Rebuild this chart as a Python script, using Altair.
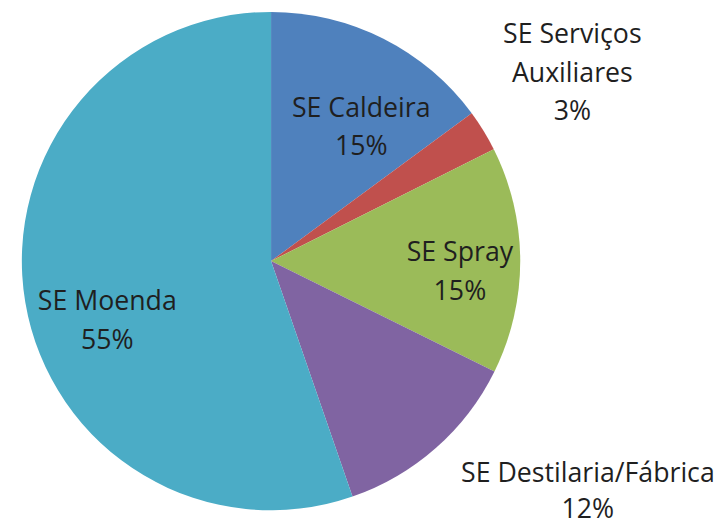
import math
import altair as alt
import pandas as pd

categories = ["SE Caldeira", "SE Serviços Auxiliares", "SE Spray",
              "SE Destilaria/Fábrica", "SE Moenda"]
values = [14.9, 2.7, 14.7, 12.4, 55.3]
labels = ["SE Caldeira\n15%", "SE Serviços\nAuxiliares\n3%", "SE Spray\n15%",
          "SE Destilaria/Fábrica\n12%", "SE Moenda\n55%"]
colors = ["#4F81BD", "#C0504D", "#9BBB59", "#8064A2", "#4BACC6"]

df = pd.DataFrame({
    "category": categories,
    "value": values,
    "label": labels,
    "order": list(range(len(categories))),
})

# label layout: (radius, dx, dy) -- dy locates the first line of each label
label_layout = {
    "SE Caldeira": (160, 19, -11),
    "SE Serviços Auxiliares": (355, 2, -43),
    "SE Spray": (189, 2, -7),
    "SE Destilaria/Fábrica": (300, 122, -10),
    "SE Moenda": (174, 6, 13),
}

theta_scale = alt.Scale(domain=[0, 100], range=[0, 2 * math.pi])

pie = alt.Chart(df).mark_arc(outerRadius=252, stroke=None).encode(
    theta=alt.Theta("value:Q", stack=True, scale=theta_scale),
    color=alt.Color("category:N", scale=alt.Scale(domain=categories, range=colors), legend=None),
    order=alt.Order("order:Q"),
)

base = alt.Chart(df).transform_window(
    cum="sum(value)", sort=[{"field": "order"}], frame=[None, 0]
).transform_calculate(mid="datum.cum - datum.value / 2")

texts = []
for cat in categories:
    r, dx, dy = label_layout[cat]
    t = base.transform_filter(alt.datum.category == cat).mark_text(
        radius=r, dx=dx, dy=dy, font="Open Sans", fontSize=27, color="#1f1f1f",
        lineBreak="\n", lineHeight=39 if cat != "SE Destilaria/Fábrica" else 37,
        align="center", baseline="middle",
    ).encode(
        theta=alt.Theta("mid:Q", scale=theta_scale),
        text="label:N",
    )
    texts.append(t)

chart = alt.layer(pie, *texts).properties(
    width=526, height=506,
    autosize=alt.AutoSizeParams(type="none"),
    padding={"left": 3, "top": 0, "right": 189, "bottom": 13},
).configure_view(stroke=None)

chart.save("out.html", embed_options={"renderer": "svg", "actions": False})
